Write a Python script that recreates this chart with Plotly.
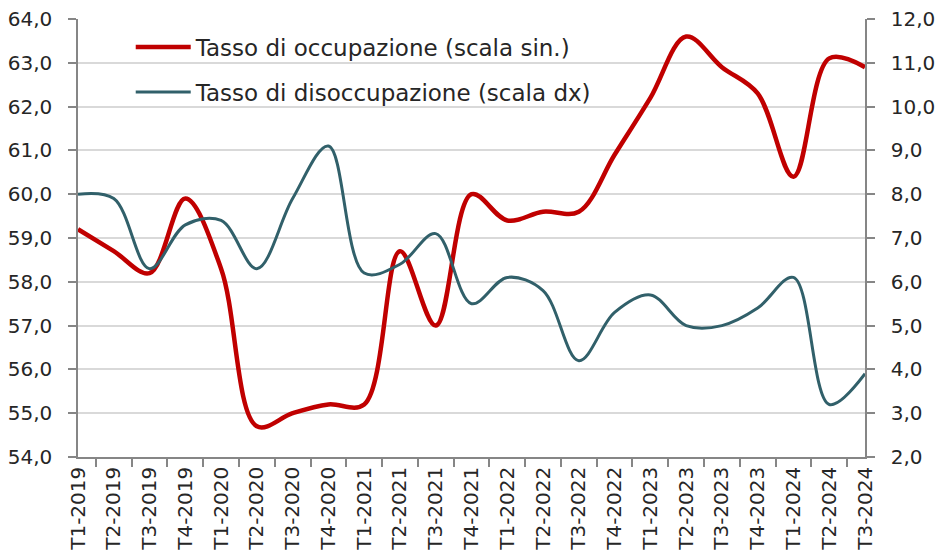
import plotly.graph_objects as go

quarters = ["T1-2019", "T2-2019", "T3-2019", "T4-2019",
            "T1-2020", "T2-2020", "T3-2020", "T4-2020",
            "T1-2021", "T2-2021", "T3-2021", "T4-2021",
            "T1-2022", "T2-2022", "T3-2022", "T4-2022",
            "T1-2023", "T2-2023", "T3-2023", "T4-2023",
            "T1-2024", "T2-2024", "T3-2024"]

occupazione = [59.2, 58.7, 58.2, 59.9,
               58.3, 54.7, 55.0, 55.2,
               55.2, 58.7, 57.0, 60.0,
               59.4, 59.6, 59.6, 60.9,
               62.2, 63.6, 62.9, 62.3,
               60.4, 63.1, 62.9]

disoccupazione = [8.0, 7.9, 6.3, 7.3,
                  7.4, 6.3, 7.9, 9.1,
                  6.2, 6.4, 7.1, 5.5,
                  6.1, 5.8, 4.2, 5.3,
                  5.7, 5.0, 5.0, 5.4,
                  6.1, 3.2, 3.9]

name_occ = "Tasso di occupazione (scala sin.)"
name_dis = "Tasso di disoccupazione (scala dx)"

RED = "#C00000"
TEAL = "#31606A"
FONT = "DejaVu Sans"
TXT = "#262626"
AX = "#868686"

fig = go.Figure()
fig.add_trace(go.Scatter(
    x=quarters, y=occupazione, name=name_occ, mode="lines",
    line=dict(color=RED, width=4.5, shape="spline", smoothing=1),
    legendgroup="a", yaxis="y"))
fig.add_trace(go.Scatter(
    x=quarters, y=disoccupazione, name=name_dis, mode="lines",
    line=dict(color=TEAL, width=3, shape="spline", smoothing=1),
    legendgroup="b", yaxis="y2"))

fig.update_layout(
    width=938, height=557,
    margin=dict(l=78, r=73, t=19, b=100, autoexpand=False),
    paper_bgcolor="white", plot_bgcolor="white",
    separators=",.",
    font=dict(family=FONT, size=20, color=TXT),
    showlegend=True,
    legend=dict(x=0.067, y=0.985, xanchor="left", yanchor="top",
                bgcolor="rgba(0,0,0,0)", borderwidth=0,
                itemwidth=55,
                font=dict(family=FONT, size=23, color=TXT),
                tracegroupgap=12),
    xaxis=dict(type="category", tickson="boundaries", ticks="outside",
               ticklen=8, tickcolor=AX, tickwidth=1.5,
               showline=True, linecolor=AX, linewidth=1.5,
               showgrid=False, tickangle=-90, automargin=False,
               tickfont=dict(family=FONT, size=20, color=TXT)),
    yaxis=dict(range=[54, 64], dtick=1, tickformat=".1f",
               ticks="outside", ticklen=8, tickcolor=AX, tickwidth=1.5,
               showline=True, linecolor=AX, linewidth=1.5,
               showgrid=True, gridcolor="#D9D9D9", gridwidth=1.5,
               zeroline=False, automargin=False, ticklabelstandoff=12,
               tickfont=dict(family=FONT, size=20, color=TXT)),
    yaxis2=dict(range=[2, 12], dtick=1, tickformat=".1f",
                overlaying="y", side="right",
                ticks="outside", ticklen=8, tickcolor=AX, tickwidth=1.5,
                showline=True, linecolor=AX, linewidth=1.5,
                showgrid=False, zeroline=False, automargin=False,
                ticklabelstandoff=12,
                tickfont=dict(family=FONT, size=20, color=TXT)),
)

fig.write_html("out.html",
               config={"displayModeBar": False},
               post_script="document.body.style.margin='0';"
                           "document.body.style.overflow='hidden';")
